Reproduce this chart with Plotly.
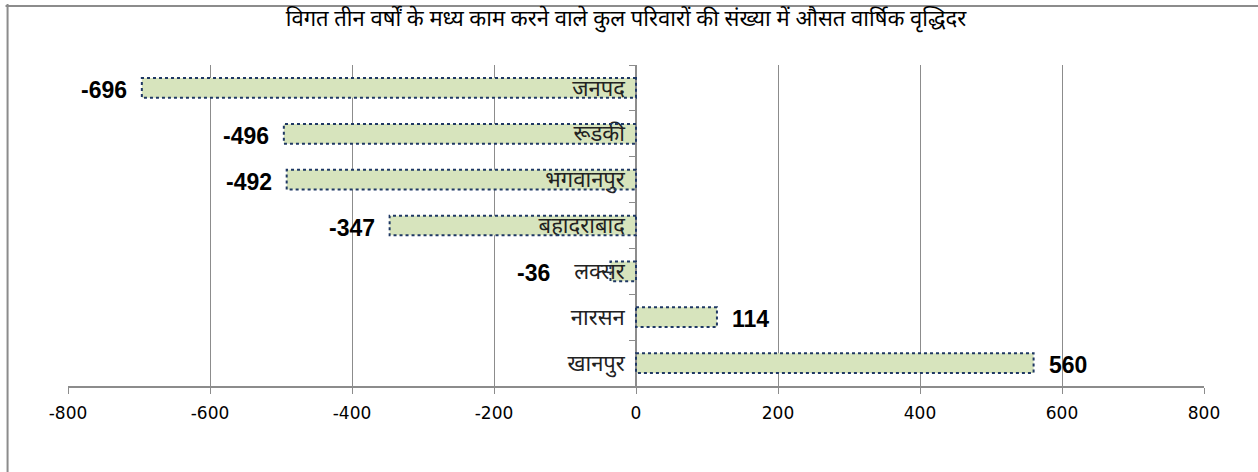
import plotly.graph_objects as go

title_text = "विगत तीन वर्षों के मध्य काम करने वाले कुल परिवारों की संख्या में औसत वार्षिक वृद्धिदर"
categories = ["जनपद", "रूडकी", "भगवानपुर", "बहादराबाद", "लक्सर", "नारसन", "खानपुर"]
values = [-696, -496, -492, -347, -36, 114, 560]
x_ticks = [-800, -600, -400, -200, 0, 200, 400, 600, 800]

FILL = "#D7E4BD"
EDGE = "#1F3864"
GRID = "#8C8C8C"
BAR_W = 0.43

fig = go.Figure()
fig.add_trace(go.Bar(
    y=categories, x=values, orientation="h", width=BAR_W,
    marker=dict(color=FILL, line=dict(width=0)),
    hoverinfo="x+y", showlegend=False,
))

# dotted outlines of the bars, in data coordinates
for i, v in enumerate(values):
    fig.add_shape(type="rect", xref="x", yref="y",
                  x0=0, x1=v, y0=i - BAR_W / 2, y1=i + BAR_W / 2,
                  line=dict(color=EDGE, width=2, dash="dot"),
                  fillcolor="rgba(0,0,0,0)", layer="above")

# data labels
for i, v in enumerate(values):
    small = abs(v) < 60
    if v < 0:
        shift = -(58 if small else 13)
        anchor = "right"
    else:
        shift = 13
        anchor = "left"
    fig.add_annotation(x=v, y=categories[i], xref="x", yref="y",
                       text=f"<b>{v}</b>", showarrow=False,
                       xanchor=anchor, xshift=shift, yshift=-2,
                       font=dict(family="Liberation Sans, Arial", size=23, color="black"))

# outer chart frame (top and left edges visible)
fig.add_shape(type="line", xref="paper", yref="paper", x0=-0.055, x1=1.1, y0=1.184, y1=1.184,
              line=dict(color=GRID, width=2))
fig.add_shape(type="line", xref="paper", yref="paper", x0=-0.0532, x1=-0.0532, y0=-0.3, y1=1.19,
              line=dict(color=GRID, width=2))

fig.update_layout(
    width=1258, height=472,
    margin=dict(l=68, r=54, t=65, b=86),
    paper_bgcolor="white", plot_bgcolor="white",
    title=dict(text=title_text, x=0.4976, xref="container", xanchor="center",
               y=0.962, yref="container", yanchor="middle",
               font=dict(family="Liberation Sans Narrow, Noto Sans, sans-serif", size=22, color="black")),
    xaxis=dict(range=[-800, 800], tickvals=x_ticks, ticktext=[str(t) for t in x_ticks],
               showgrid=True, gridcolor=GRID, gridwidth=1,
               zeroline=False, showline=True, linecolor=GRID, linewidth=2,
               ticks="outside", ticklen=6, tickcolor=GRID, tickwidth=1,
               ticklabelstandoff=5,
               tickfont=dict(family="DejaVu Sans", size=17, color="black"),
               fixedrange=True),
    yaxis=dict(type="category", categoryorder="array", categoryarray=categories,
               autorange="reversed", anchor="free", position=0.5,
               showgrid=False, zeroline=False, showline=True, linecolor=GRID, linewidth=1.5,
               ticks="outside", tickson="boundaries", ticklen=6, tickcolor=GRID,
               ticklabelstandoff=6,
               tickfont=dict(family="Noto Sans, sans-serif", size=22, color="#222"),
               fixedrange=True),
)

fig.write_html("out.html", config={"displayModeBar": False},
               post_script="document.body.style.margin='0';")
